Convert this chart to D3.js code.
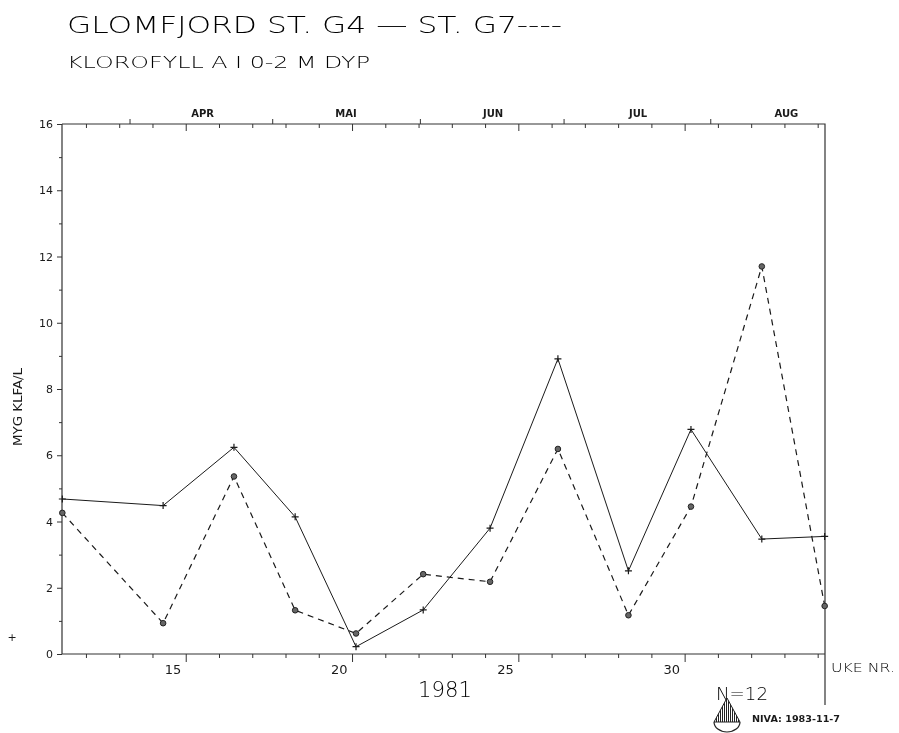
<!DOCTYPE html>
<html>
<head>
<meta charset="utf-8">
<script src="https://cdn.jsdelivr.net/npm/d3@7"></script>
<style>
  body { margin: 0; background: #fff; }
  #chart { will-change: transform; width: 899px; height: 733px; }
  text { font-family: "DejaVu Sans", sans-serif; fill: #1a1a1a; }
</style>
</head>
<body>
<div id="chart"></div>
<script>
// data (week number, chlorophyll a)
const weeks = [11.29, 14.32, 16.45, 18.29, 20.12, 22.14, 24.15, 26.19, 28.31, 30.19, 32.32, 34.21];
const g4 = [4.68, 4.48, 6.24, 4.14, 0.22, 1.33, 3.80, 8.91, 2.51, 6.78, 3.47, 3.55];
const g7 = [4.26, 0.93, 5.36, 1.32, 0.62, 2.41, 2.18, 6.19, 1.17, 4.45, 11.7, 1.45];

// axes
const monthNames = ["APR", "MAI", "JUN", "JUL", "AUG"];
const monthMid = [15.51, 19.82, 24.24, 28.6, 33.06];
const monthStart = [13.31, 17.6, 22.04, 26.36, 30.77];
const minorWeeks = [12, 13, 14, 16, 17, 18, 19, 21, 22, 23, 24, 26, 27, 28, 29, 31, 32, 33, 34];
const majorWeeks = [15, 20, 25, 30];
const yMajor = [0, 2, 4, 6, 8, 10, 12, 14, 16];
const yMinor = [1, 3, 5, 7, 9, 11, 13, 15];

const W = 899, H = 733;
const pLeft = 62, pRight = 825, pTop = 124, pBottom = 654;

const svg = d3.select("#chart").append("svg")
    .attr("width", W)
    .attr("height", H);

const x = d3.scaleLinear().domain([11.28, 34.22]).range([pLeft, pRight]);
const y = d3.scaleLinear().domain([0, 16]).range([pBottom, pTop]);

// titles
svg.append("text")
    .attr("x", 67).attr("y", 33)
    .attr("textLength", 495).attr("lengthAdjust", "spacingAndGlyphs")
    .style("font-size", "23px").style("font-weight", 200).style("fill", "#000")
    .text("GLOMFJORD ST. G4 \u2014 ST. G7----");

svg.append("text")
    .attr("x", 67).attr("y", 68)
    .attr("textLength", 303).attr("lengthAdjust", "spacingAndGlyphs")
    .style("font-size", "15px").style("font-weight", 200).style("fill", "#000")
    .text("KLOROFYLL A I 0-2 M DYP");

// bottom axis (each axis in its own group)
svg.append("g").attr("transform", `translate(0,${pBottom})`)
    .call(d3.axisBottom(x).tickValues(minorWeeks).tickSize(4).tickFormat(""));
const gBot = svg.append("g").attr("transform", `translate(0,${pBottom})`)
    .call(d3.axisBottom(x).tickValues(majorWeeks).tickSize(8).tickSizeOuter(0));
gBot.selectAll("text")
    .attr("text-anchor", "end")
    .attr("dx", "-5")
    .attr("y", 11)
    .style("font-size", "13px")
    .style("fill", "#1a1a1a");

// top axis: weeks inward, month bounds outward
svg.append("g").attr("transform", `translate(0,${pTop})`)
    .call(d3.axisBottom(x).tickValues(minorWeeks).tickSize(4).tickFormat(""));
svg.append("g").attr("transform", `translate(0,${pTop})`)
    .call(d3.axisBottom(x).tickValues(majorWeeks).tickSize(7).tickFormat(""));
svg.append("g").attr("transform", `translate(0,${pTop})`)
    .call(d3.axisTop(x).tickValues(monthStart).tickSize(5).tickFormat(""));

svg.append("g").selectAll("text")
    .data(monthNames)
    .join("text")
    .attr("x", (d, i) => x(monthMid[i]))
    .attr("y", 117)
    .attr("text-anchor", "middle")
    .style("font-size", "10px")
    .style("font-weight", 600)
    .text(d => d);

// left axis
svg.append("g").attr("transform", `translate(${pLeft},0)`)
    .call(d3.axisLeft(y).tickValues(yMinor).tickSize(3).tickFormat(""));
const gLeft = svg.append("g").attr("transform", `translate(${pLeft},0)`)
    .call(d3.axisLeft(y).tickValues(yMajor).tickSize(5).tickSizeOuter(0));
gLeft.selectAll("text")
    .attr("x", -9)
    .style("font-size", "11px")
    .style("fill", "#1a1a1a");

svg.selectAll(".domain").remove();
svg.selectAll(".tick line").attr("stroke", "#333");

// frame lines
svg.append("path")
    .attr("d", `M${pLeft},${pTop}V${pBottom}H${pRight}M${pLeft},${pTop}H${pRight}V705`)
    .attr("fill", "none")
    .attr("stroke", "#333")
    .attr("stroke-width", 1.2);

svg.append("text")
    .attr("transform", `translate(22,407) rotate(-90)`)
    .attr("text-anchor", "middle")
    .attr("textLength", 78).attr("lengthAdjust", "spacingAndGlyphs")
    .style("font-size", "12px")
    .text("MYG KLFA/L");

// lines
const pts4 = weeks.map((w, i) => [w, g4[i]]);
const pts7 = weeks.map((w, i) => [w, g7[i]]);
const line = d3.line().x(d => x(d[0])).y(d => y(d[1]));

svg.append("path")
    .attr("d", line(pts4))
    .attr("fill", "none")
    .attr("stroke", "#1a1a1a")
    .attr("stroke-width", 1);

svg.append("path")
    .attr("d", line(pts7))
    .attr("fill", "none")
    .attr("stroke", "#1a1a1a")
    .attr("stroke-width", 1.2)
    .attr("stroke-dasharray", "6,5");

svg.append("g").selectAll("path")
    .data(pts4)
    .join("path")
    .attr("d", d => `M${x(d[0]) - 3.5},${y(d[1])}h7M${x(d[0])},${y(d[1]) - 3.5}v7`)
    .attr("stroke", "#1a1a1a")
    .attr("stroke-width", 1.2);

svg.append("g").selectAll("circle")
    .data(pts7)
    .join("circle")
    .attr("cx", d => x(d[0]))
    .attr("cy", d => y(d[1]))
    .attr("r", 2.8)
    .attr("fill", "#666")
    .attr("stroke", "#222")
    .attr("stroke-width", 1);

// footer texts
svg.append("text")
    .attr("x", 831).attr("y", 672)
    .attr("textLength", 64).attr("lengthAdjust", "spacingAndGlyphs")
    .style("font-size", "13px").style("font-weight", 200).style("fill", "#000")
    .text("UKE NR.");

svg.append("text")
    .attr("x", 418).attr("y", 697)
    .attr("textLength", 54).attr("lengthAdjust", "spacingAndGlyphs")
    .style("font-size", "22px").style("font-weight", 200).style("fill", "#000")
    .text("1981");

svg.append("text")
    .attr("x", 716).attr("y", 700)
    .attr("textLength", 52).attr("lengthAdjust", "spacingAndGlyphs")
    .style("font-size", "18px").style("font-weight", 200).style("fill", "#000")
    .text("N=12");

// NIVA drop logo, hatched
const defs = svg.append("defs");
defs.append("pattern")
    .attr("id", "hatch")
    .attr("width", 2).attr("height", 2)
    .attr("patternUnits", "userSpaceOnUse")
    .append("rect")
    .attr("width", 1).attr("height", 2)
    .attr("fill", "#222");

const logo = svg.append("g");
logo.append("path")
    .attr("d", "M727,698 L714,722 L740,722 Z")
    .attr("fill", "url(#hatch)")
    .attr("stroke", "#222");
logo.append("path")
    .attr("d", "M714,722 A13,10 0 0,0 740,722")
    .attr("fill", "none")
    .attr("stroke", "#222")
    .attr("stroke-width", 1.2);

svg.append("text")
    .attr("x", 752).attr("y", 722)
    .attr("textLength", 88).attr("lengthAdjust", "spacingAndGlyphs")
    .style("font-size", "8px").style("font-weight", "bold")
    .text("NIVA: 1983-11-7");

svg.append("text")
    .attr("x", 12).attr("y", 641)
    .attr("text-anchor", "middle")
    .style("font-size", "11px")
    .text("+");
</script>
</body>
</html>
